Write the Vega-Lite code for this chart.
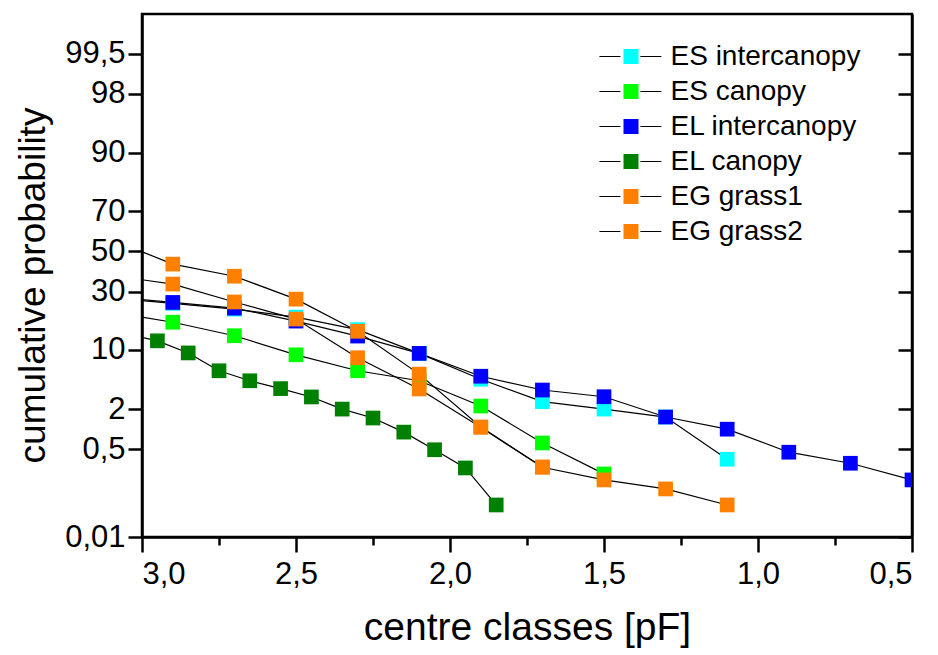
{
  "$schema": "https://vega.github.io/schema/vega-lite/v6.json",
  "width": 770,
  "height": 523,
  "autosize": {"type": "none"},
  "padding": {"left": 142, "top": 14, "right": 26, "bottom": 118},
  "background": "white",
  "config": {
    "view": {"stroke": "black", "strokeWidth": 2.5},
    "axis": {
      "grid": false,
      "domainColor": "black",
      "domainWidth": 2.5,
      "tickColor": "black",
      "tickWidth": 2.5,
      "labelFont": "Liberation Sans",
      "labelFontSize": 31,
      "labelColor": "black",
      "titleFont": "Liberation Sans",
      "titleFontSize": 38,
      "titleFontWeight": "normal",
      "titleColor": "black"
    },
    "legend": {
      "labelFont": "Liberation Sans",
      "labelFontSize": 28,
      "labelColor": "black",
      "labelLimit": 400,
      "padding": 0
    }
  },
  "data": {
    "values": [
      {"s": "ES intercanopy", "pF": 3.1, "p": 27.2},
      {"s": "ES intercanopy", "pF": 2.9, "p": 24.9},
      {"s": "ES intercanopy", "pF": 2.7, "p": 22.6},
      {"s": "ES intercanopy", "pF": 2.5, "p": 19.6},
      {"s": "ES intercanopy", "pF": 2.3, "p": 15.4},
      {"s": "ES intercanopy", "pF": 2.1, "p": 9.2},
      {"s": "ES intercanopy", "pF": 1.9, "p": 4.8},
      {"s": "ES intercanopy", "pF": 1.7, "p": 2.52},
      {"s": "ES intercanopy", "pF": 1.5, "p": 2.0},
      {"s": "ES intercanopy", "pF": 1.3, "p": 1.55},
      {"s": "ES intercanopy", "pF": 1.1, "p": 0.34},
      {"s": "ES canopy", "pF": 3.1, "p": 21.5},
      {"s": "ES canopy", "pF": 2.9, "p": 17.8},
      {"s": "ES canopy", "pF": 2.7, "p": 13.6},
      {"s": "ES canopy", "pF": 2.5, "p": 8.9},
      {"s": "ES canopy", "pF": 2.3, "p": 6.0},
      {"s": "ES canopy", "pF": 2.1, "p": 4.6},
      {"s": "ES canopy", "pF": 1.9, "p": 2.2},
      {"s": "ES canopy", "pF": 1.7, "p": 0.63},
      {"s": "ES canopy", "pF": 1.5, "p": 0.188},
      {"s": "EL intercanopy", "pF": 3.1, "p": 27.7},
      {"s": "EL intercanopy", "pF": 2.9, "p": 25.3},
      {"s": "EL intercanopy", "pF": 2.7, "p": 23.0},
      {"s": "EL intercanopy", "pF": 2.5, "p": 18.2},
      {"s": "EL intercanopy", "pF": 2.3, "p": 13.5},
      {"s": "EL intercanopy", "pF": 2.1, "p": 9.2},
      {"s": "EL intercanopy", "pF": 1.9, "p": 5.2},
      {"s": "EL intercanopy", "pF": 1.7, "p": 3.55},
      {"s": "EL intercanopy", "pF": 1.5, "p": 2.92},
      {"s": "EL intercanopy", "pF": 1.3, "p": 1.55},
      {"s": "EL intercanopy", "pF": 1.1, "p": 1.03},
      {"s": "EL intercanopy", "pF": 0.9, "p": 0.446},
      {"s": "EL intercanopy", "pF": 0.7, "p": 0.29},
      {"s": "EL intercanopy", "pF": 0.5, "p": 0.146},
      {"s": "EL canopy", "pF": 3.05, "p": 14.1},
      {"s": "EL canopy", "pF": 2.95, "p": 12.2},
      {"s": "EL canopy", "pF": 2.85, "p": 9.3},
      {"s": "EL canopy", "pF": 2.75, "p": 6.0},
      {"s": "EL canopy", "pF": 2.65, "p": 4.6},
      {"s": "EL canopy", "pF": 2.55, "p": 3.7},
      {"s": "EL canopy", "pF": 2.45, "p": 2.9},
      {"s": "EL canopy", "pF": 2.35, "p": 2.0},
      {"s": "EL canopy", "pF": 2.25, "p": 1.5},
      {"s": "EL canopy", "pF": 2.15, "p": 0.93},
      {"s": "EL canopy", "pF": 2.05, "p": 0.49},
      {"s": "EL canopy", "pF": 1.95, "p": 0.24},
      {"s": "EL canopy", "pF": 1.85, "p": 0.048},
      {"s": "EG grass1", "pF": 3.1, "p": 37.7},
      {"s": "EG grass1", "pF": 2.9, "p": 33.5},
      {"s": "EG grass1", "pF": 2.7, "p": 25.5},
      {"s": "EG grass1", "pF": 2.5, "p": 18.9},
      {"s": "EG grass1", "pF": 2.3, "p": 8.3},
      {"s": "EG grass1", "pF": 2.1, "p": 3.66},
      {"s": "EG grass1", "pF": 1.9, "p": 1.10},
      {"s": "EG grass1", "pF": 1.7, "p": 0.247},
      {"s": "EG grass1", "pF": 1.5, "p": 0.146},
      {"s": "EG grass1", "pF": 1.3, "p": 0.099},
      {"s": "EG grass1", "pF": 1.1, "p": 0.048},
      {"s": "EG grass2", "pF": 3.1, "p": 56.2},
      {"s": "EG grass2", "pF": 2.9, "p": 43.4},
      {"s": "EG grass2", "pF": 2.7, "p": 37.3},
      {"s": "EG grass2", "pF": 2.5, "p": 26.7},
      {"s": "EG grass2", "pF": 2.3, "p": 14.9},
      {"s": "EG grass2", "pF": 2.1, "p": 5.5},
      {"s": "EG grass2", "pF": 1.9, "p": 1.11},
      {"s": "EG grass2", "pF": 1.7, "p": 0.25}
    ]
  },
  "transform": [
    {"calculate": "quantileNormal(datum.p / 100)", "as": "z"}
  ],
  "resolve": {"axis": {"x": "independent", "y": "independent"}},
  "layer": [
    {
      "mark": {"type": "line", "clip": true, "strokeWidth": 1.2},
      "encoding": {
        "x": {
          "field": "pF", "type": "quantitative",
          "scale": {"domain": [0.5, 3.0], "reverse": true, "nice": false, "zero": false},
          "axis": {
            "orient": "bottom",
            "values": [3.0, 2.5, 2.0, 1.5, 1.0, 0.5],
            "labelExpr": "replace(format(datum.value, '.1f'), '.', ',')",
            "tickSize": 15,
            "labelPadding": 7,
            "title": "centre classes [pF]",
            "titleFontSize": 39,
            "titlePadding": 19
          }
        },
        "y": {
          "field": "z", "type": "quantitative",
          "scale": {"domain": [-3.719016, 3.090232], "nice": false, "zero": false},
          "axis": {
            "orient": "left",
            "values": [-3.719016, -2.575829, -2.053749, -1.281552, -0.524401, 0, 0.524401, 1.281552, 2.053749, 2.575829],
            "labelExpr": "datum.value < -3 ? '0,01' : datum.value < -2.3 ? '0,5' : datum.value < -2 ? '2' : datum.value < -1 ? '10' : datum.value < -0.3 ? '30' : datum.value < 0.3 ? '50' : datum.value < 1 ? '70' : datum.value < 2 ? '90' : datum.value < 2.3 ? '98' : '99,5'",
            "tickSize": 14,
            "labelPadding": 3,
            "title": "cumulative probability",
            "titleFontSize": 37,
            "titleY": 271,
            "titlePadding": 12
          }
        },
        "stroke": {
          "field": "s", "type": "nominal",
          "scale": {
            "domain": ["EG grass2", "EG grass1", "EL canopy", "EL intercanopy", "ES canopy", "ES intercanopy"],
            "range": ["black", "black", "black", "black", "black", "black"]
          },
          "legend": {
            "orient": "none",
            "legendX": 474.4,
            "legendY": 28.5,
            "title": null,
            "symbolType": "M-4.13,0H-1.33M1.33,0H4.13",
            "symbolSize": 225,
            "symbolStrokeWidth": 1.2,
            "symbolFillColor": "transparent",
            "labelExpr": "' '",
            "labelOffset": 25.5,
            "rowPadding": 7
          }
        }
      }
    },
    {
      "mark": {"type": "point", "shape": "square", "filled": true, "size": 216, "opacity": 1, "clip": true, "strokeWidth": 0},
      "encoding": {
        "x": {
          "field": "pF", "type": "quantitative",
          "axis": {
            "orient": "bottom",
            "values": [2.75, 2.25, 1.75, 1.25, 0.75],
            "labels": false,
            "domain": false,
            "tickSize": 8,
            "title": null
          }
        },
        "y": {
          "field": "z", "type": "quantitative",
          "axis": {
            "orient": "right",
            "values": [-3.719016, -2.575829, -2.053749, -1.281552, -0.524401, 0, 0.524401, 1.281552, 2.053749, 2.575829],
            "labels": false,
            "tickSize": -14,
            "title": null
          }
        },
        "fill": {
          "field": "s", "type": "nominal",
          "scale": {
            "domain": ["ES intercanopy", "ES canopy", "EL intercanopy", "EL canopy", "EG grass1", "EG grass2"],
            "range": ["#00FFFF", "#00FF00", "#0000FF", "#008000", "#FF8000", "#FF8000"]
          },
          "legend": {
            "orient": "none",
            "legendX": 475,
            "legendY": 28.5,
            "title": null,
            "symbolType": "square",
            "symbolSize": 225,
            "symbolStrokeWidth": 0,
            "symbolOpacity": 1,
            "labelOffset": 25.5,
            "rowPadding": 7
          }
        }
      }
    }
  ]
}
